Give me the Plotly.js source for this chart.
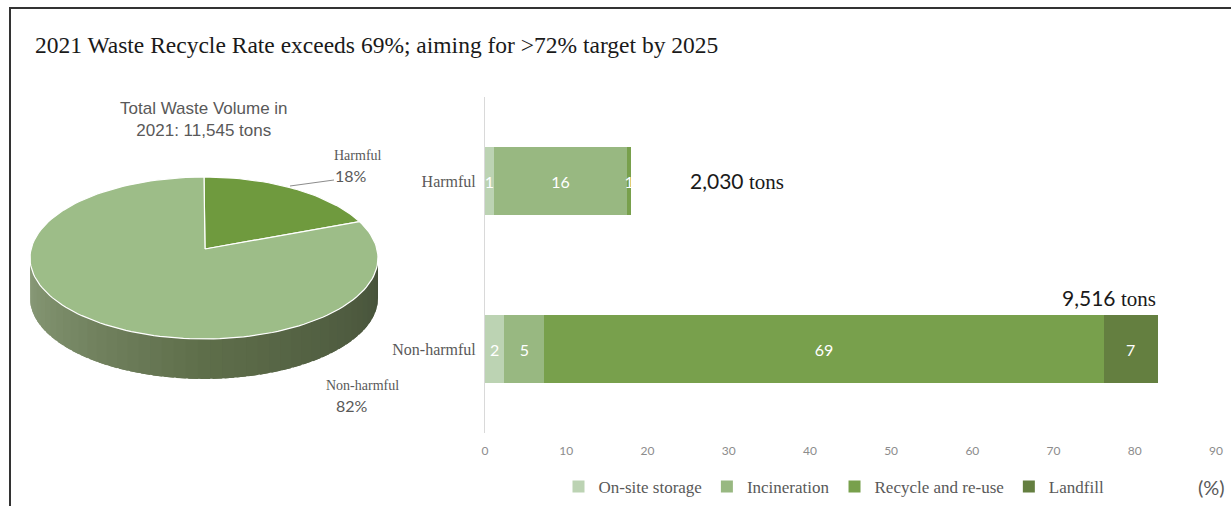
<!DOCTYPE html>
<html>
<head>
<meta charset="utf-8">
<script src="https://cdn.plot.ly/plotly-3.0.1.min.js"></script>
<style>
  html, body { margin: 0; padding: 0; background: #ffffff; }
  #wrap { position: relative; width: 1231px; height: 506px; overflow: hidden; }
  #chart { position: absolute; left: 0; top: 0; width: 1231px; height: 506px; }
  #frame { position: absolute; left: 9px; top: 7px; right: -4px; bottom: -4px;
           border-top: 2px solid #333333; border-left: 2px solid #333333; pointer-events: none; }
</style>
</head>
<body>
<div id="wrap">
  <div id="chart"></div>
  <div id="frame"></div>
</div>
<script>
// ---------------- DATA ----------------
const chartTitle = '2021 Waste Recycle Rate exceeds 69%; aiming for >72% target by 2025';
const categories = ['Harmful', 'Non-harmful'];
const tons = [2030, 9516];
const seriesNames = ['On-site storage', 'Incineration', 'Recycle and re-use', 'Landfill'];
const onSiteStorage = [1.1, 2.4];
const incineration = [16.4, 4.9];
const recycleReuse = [0.5, 68.9];
const landfill = [0, 6.6];
const xTicks = [0, 10, 20, 30, 40, 50, 60, 70, 80, 90];
const pieTitle = 'Total Waste Volume in<br>2021: 11,545 tons';

// ---------------- STYLE ----------------
const barColors = ['#bcd3b3', '#98b881', '#78a04c', '#647f40'];
const pieColors = ['#6f9a3e', '#9dbd88'];
const GRAY = '#595959';
const SANS = 'Lato, "Open Sans", sans-serif';
const SERIF = '"Liberation Serif", "DejaVu Serif", serif';

const traces = [];

// ---- 3D-looking pie, in a pixel-unit helper subplot (x2/y2) ----
const cx = 204, cy = 258, rx = 174, ry = 81, depth = 40;
const vx = 205, vy = 249;
const rad = d => d * Math.PI / 180;
const ex = t => cx + rx * Math.sin(rad(t));
const ey = (t, off) => cy - ry * Math.cos(rad(t)) + (off || 0);

function lerpColor(a, b, f) {
  const pa = [1, 3, 5].map(i => parseInt(a.substr(i, 2), 16));
  const pb = [1, 3, 5].map(i => parseInt(b.substr(i, 2), 16));
  const c = pa.map((v, i) => Math.round(v + (pb[i] - v) * f));
  return 'rgb(' + c.join(',') + ')';
}

// side wall (visible half: right -> bottom -> left), overlapping strips to avoid seams
const nStrips = 45;
const stepDeg = 180 / nStrips;
for (let i = 0; i < nStrips; i++) {
  const t0 = 90 + stepDeg * i;
  const t1 = Math.min(270, t0 + stepDeg * 1.8);
  const f = i / (nStrips - 1);
  const col = f < 0.5 ? lerpColor('#46513a', '#5e6e4a', f * 2) : lerpColor('#5e6e4a', '#8a9b79', (f - 0.5) * 2);
  const xs = [], ys = [];
  for (let k = 0; k <= 3; k++) { const t = t0 + (t1 - t0) * k / 3; xs.push(ex(t)); ys.push(ey(t)); }
  for (let k = 3; k >= 0; k--) { const t = t0 + (t1 - t0) * k / 3; xs.push(ex(t)); ys.push(ey(t, depth)); }
  traces.push({ type: 'scatter', mode: 'lines', x: xs, y: ys, fill: 'toself', fillcolor: col,
    line: { width: 0 }, xaxis: 'x2', yaxis: 'y2', hoverinfo: 'skip', showlegend: false });
}

// top face slices, clockwise from 12 o'clock
const totalTons = tons.reduce((a, b) => a + b, 0);
let startDeg = 0;
tons.forEach((v, i) => {
  const span = v / totalTons * 360;
  const xs = [vx], ys = [vy];
  const n = Math.max(4, Math.ceil(span / 2));
  for (let k = 0; k <= n; k++) { const t = startDeg + span * k / n; xs.push(ex(t)); ys.push(ey(t)); }
  xs.push(vx); ys.push(vy);
  traces.push({ type: 'scatter', mode: 'lines', x: xs, y: ys, fill: 'toself', fillcolor: pieColors[i],
    line: { color: '#ffffff', width: 1.2 }, xaxis: 'x2', yaxis: 'y2', hoverinfo: 'skip', showlegend: false });
  startDeg += span;
});
const pct = tons.map(v => Math.round(v / totalTons * 100) + '%');

// ---- stacked horizontal bars ----
const series = [onSiteStorage, incineration, recycleReuse, landfill];
series.forEach((vals, i) => {
  traces.push({
    type: 'bar', orientation: 'h', name: seriesNames[i],
    y: categories, x: vals,
    marker: { color: barColors[i], line: { width: 0 } },
    text: vals.map(v => v > 0 ? String(Math.round(v)) : ''),
    textposition: 'inside', insidetextanchor: 'middle', textangle: 0,
    textfont: { family: SANS, size: 16, color: '#ffffff' },
    hoverinfo: 'skip', cliponaxis: false
  });
});
const totals = categories.map((c, j) => series.reduce((s, arr) => s + arr[j], 0));

const annotations = [
  { xref: 'x2', yref: 'y2', x: 204, y: 119, text: pieTitle, showarrow: false,
    font: { family: '"Liberation Sans", Arial, sans-serif', size: 17, color: GRAY }, align: 'center' },
  { xref: 'x2', yref: 'y2', x: 358, y: 155, text: categories[0], showarrow: false,
    font: { family: SERIF, size: 14, color: GRAY } },
  { xref: 'x2', yref: 'y2', x: 351, y: 175, text: pct[0], showarrow: false,
    font: { family: SANS, size: 16, color: GRAY } },
  { xref: 'x2', yref: 'y2', x: 362, y: 385, text: categories[1], showarrow: false,
    font: { family: SERIF, size: 14, color: GRAY } },
  { xref: 'x2', yref: 'y2', x: 352, y: 405, text: pct[1], showarrow: false,
    font: { family: SANS, size: 16, color: GRAY } },
  { xref: 'x', yref: 'y', x: totals[0], y: categories[0], xanchor: 'left', xshift: 57,
    text: tons[0].toLocaleString('en-US') + ' <span style="font-family:Liberation Serif">tons</span>',
    showarrow: false, font: { family: SANS, size: 21, color: '#1a1a1a' } },
  { xref: 'x', yref: 'y', x: totals[1], y: categories[1], xanchor: 'right', yanchor: 'bottom', yshift: 36,
    text: tons[1].toLocaleString('en-US') + ' <span style="font-family:Liberation Serif">tons</span>',
    showarrow: false, font: { family: SANS, size: 21, color: '#1a1a1a' } },
  { xref: 'paper', yref: 'paper', x: 1227 / 1231, y: 1 - 487 / 506, xanchor: 'right', yanchor: 'middle',
    text: '(%)', showarrow: false, font: { family: SANS, size: 20, color: GRAY } }
];

const layout = {
  width: 1231, height: 506,
  margin: { l: 0, r: 0, t: 0, b: 0 },
  paper_bgcolor: '#ffffff', plot_bgcolor: 'rgba(0,0,0,0)',
  title: { text: chartTitle, x: 35 / 1231, xanchor: 'left', xref: 'container',
           y: 1 - 45 / 506, yanchor: 'middle', yref: 'container',
           font: { family: SERIF, size: 23.5, color: '#1a1a1a' } },
  barmode: 'stack', bargap: 0.595,
  uniformtext: { mode: 'show', minsize: 16 },
  xaxis: { domain: [485 / 1231, 1216 / 1231], range: [0, 90], tickvals: xTicks,
           showgrid: false, zeroline: false, showline: false, ticks: '',
           ticklabelstandoff: 9, tickfont: { family: SANS, size: 12, color: '#8c8c8c' },
           fixedrange: true },
  yaxis: { domain: [1 - 433 / 506, 1 - 97 / 506], range: [1.5, -0.5], type: 'category',
           showgrid: false, zeroline: false, showline: true, linecolor: '#d9d9d9', linewidth: 1,
           ticks: '', ticklabelstandoff: 5, tickfont: { family: SERIF, size: 16, color: GRAY },
           fixedrange: true },
  xaxis2: { domain: [0, 420 / 1231], range: [0, 420], visible: false, anchor: 'y2', fixedrange: true },
  yaxis2: { domain: [0, 1], range: [506, 0], visible: false, anchor: 'x2', fixedrange: true },
  showlegend: true,
  legend: { orientation: 'h', x: 834 / 1231, xanchor: 'center', y: 1 - 487 / 506, yanchor: 'middle',
            font: { family: SERIF, size: 17, color: GRAY }, traceorder: 'normal',
            bgcolor: 'rgba(0,0,0,0)', itemclick: false, itemdoubleclick: false },
  shapes: [
    { type: 'line', xref: 'x2', yref: 'y2', x0: 290, y0: 186, x1: 334, y1: 180,
      line: { color: '#8c8c8c', width: 1 } }
  ],
  annotations: annotations
};

Plotly.newPlot('chart', traces, layout, { displayModeBar: false, staticPlot: true });
</script>
</body>
</html>
